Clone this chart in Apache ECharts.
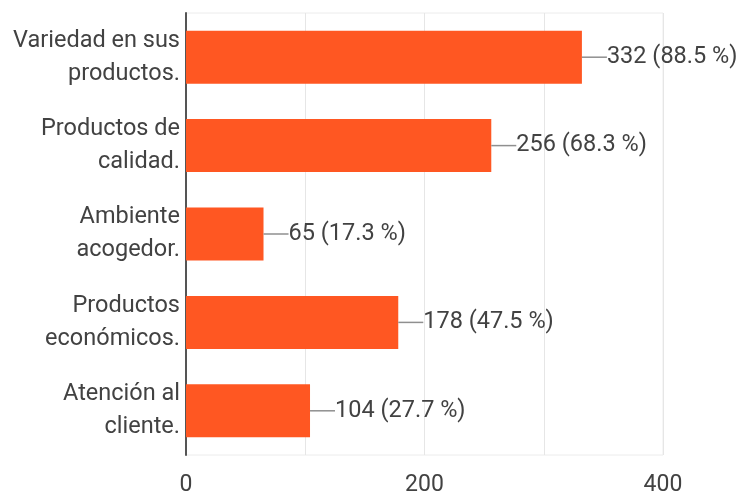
<!DOCTYPE html>
<html>
<head>
<meta charset="utf-8">
<script src="https://cdn.jsdelivr.net/npm/echarts@6/dist/echarts.min.js"></script>
<style>
  html, body { margin: 0; padding: 0; background: #fff; }
  #chart { width: 740px; height: 493px; }
</style>
</head>
<body>
<div id="chart"></div>
<script>
// Survey answers, one bar per option (375 respondents)
const categories = [
  'Variedad en sus\nproductos.',
  'Productos de\ncalidad.',
  'Ambiente\nacogedor.',
  'Productos\neconómicos.',
  'Atención al\ncliente.'
];
const counts = [332, 256, 65, 178, 104];
const percents = ['88.5', '68.3', '17.3', '47.5', '27.7'];
const axisTicks = [0, 200, 400];

const FONT = 'Roboto';
const TEXT = '#424242';

const chart = echarts.init(document.getElementById('chart'), null, { renderer: 'canvas' });

chart.setOption({
  animation: false,
  grid: {
    left: 186, right: 77, top: 13, bottom: 38,
    outerBoundsMode: 'none',
    containLabel: false,
    show: true, borderColor: '#ececec', borderWidth: 1
  },
  xAxis: {
    type: 'value',
    min: 0, max: 400, interval: 100,
    axisLine: { show: false },
    axisTick: { show: false },
    splitLine: { lineStyle: { color: '#e6e6e6', width: 1 } },
    axisLabel: {
      color: TEXT, fontFamily: FONT, fontSize: 23, margin: 19,
      formatter: v => axisTicks.includes(v) ? String(v) : ''
    }
  },
  yAxis: {
    type: 'category',
    inverse: true,
    data: categories,
    axisLine: { show: true, onZero: false, lineStyle: { color: '#555', width: 2 } },
    axisTick: { show: false },
    axisLabel: {
      color: TEXT, fontFamily: FONT, fontSize: 23.5, lineHeight: 33,
      align: 'right', margin: 6
    }
  },
  series: [{
    type: 'bar',
    data: counts,
    barCategoryGap: '40%',
    itemStyle: { color: '#ff5722' },
    label: {
      show: true,
      position: 'right',
      distance: 0,
      formatter: p => '{l|}{t|' + p.value + ' (' + percents[p.dataIndex] + ' %)}',
      rich: {
        l: { width: 25, height: 1.5, backgroundColor: '#8f8f8f' },
        t: { color: TEXT, fontFamily: FONT, fontSize: 23.5 }
      }
    }
  }]
});
</script>
</body>
</html>
